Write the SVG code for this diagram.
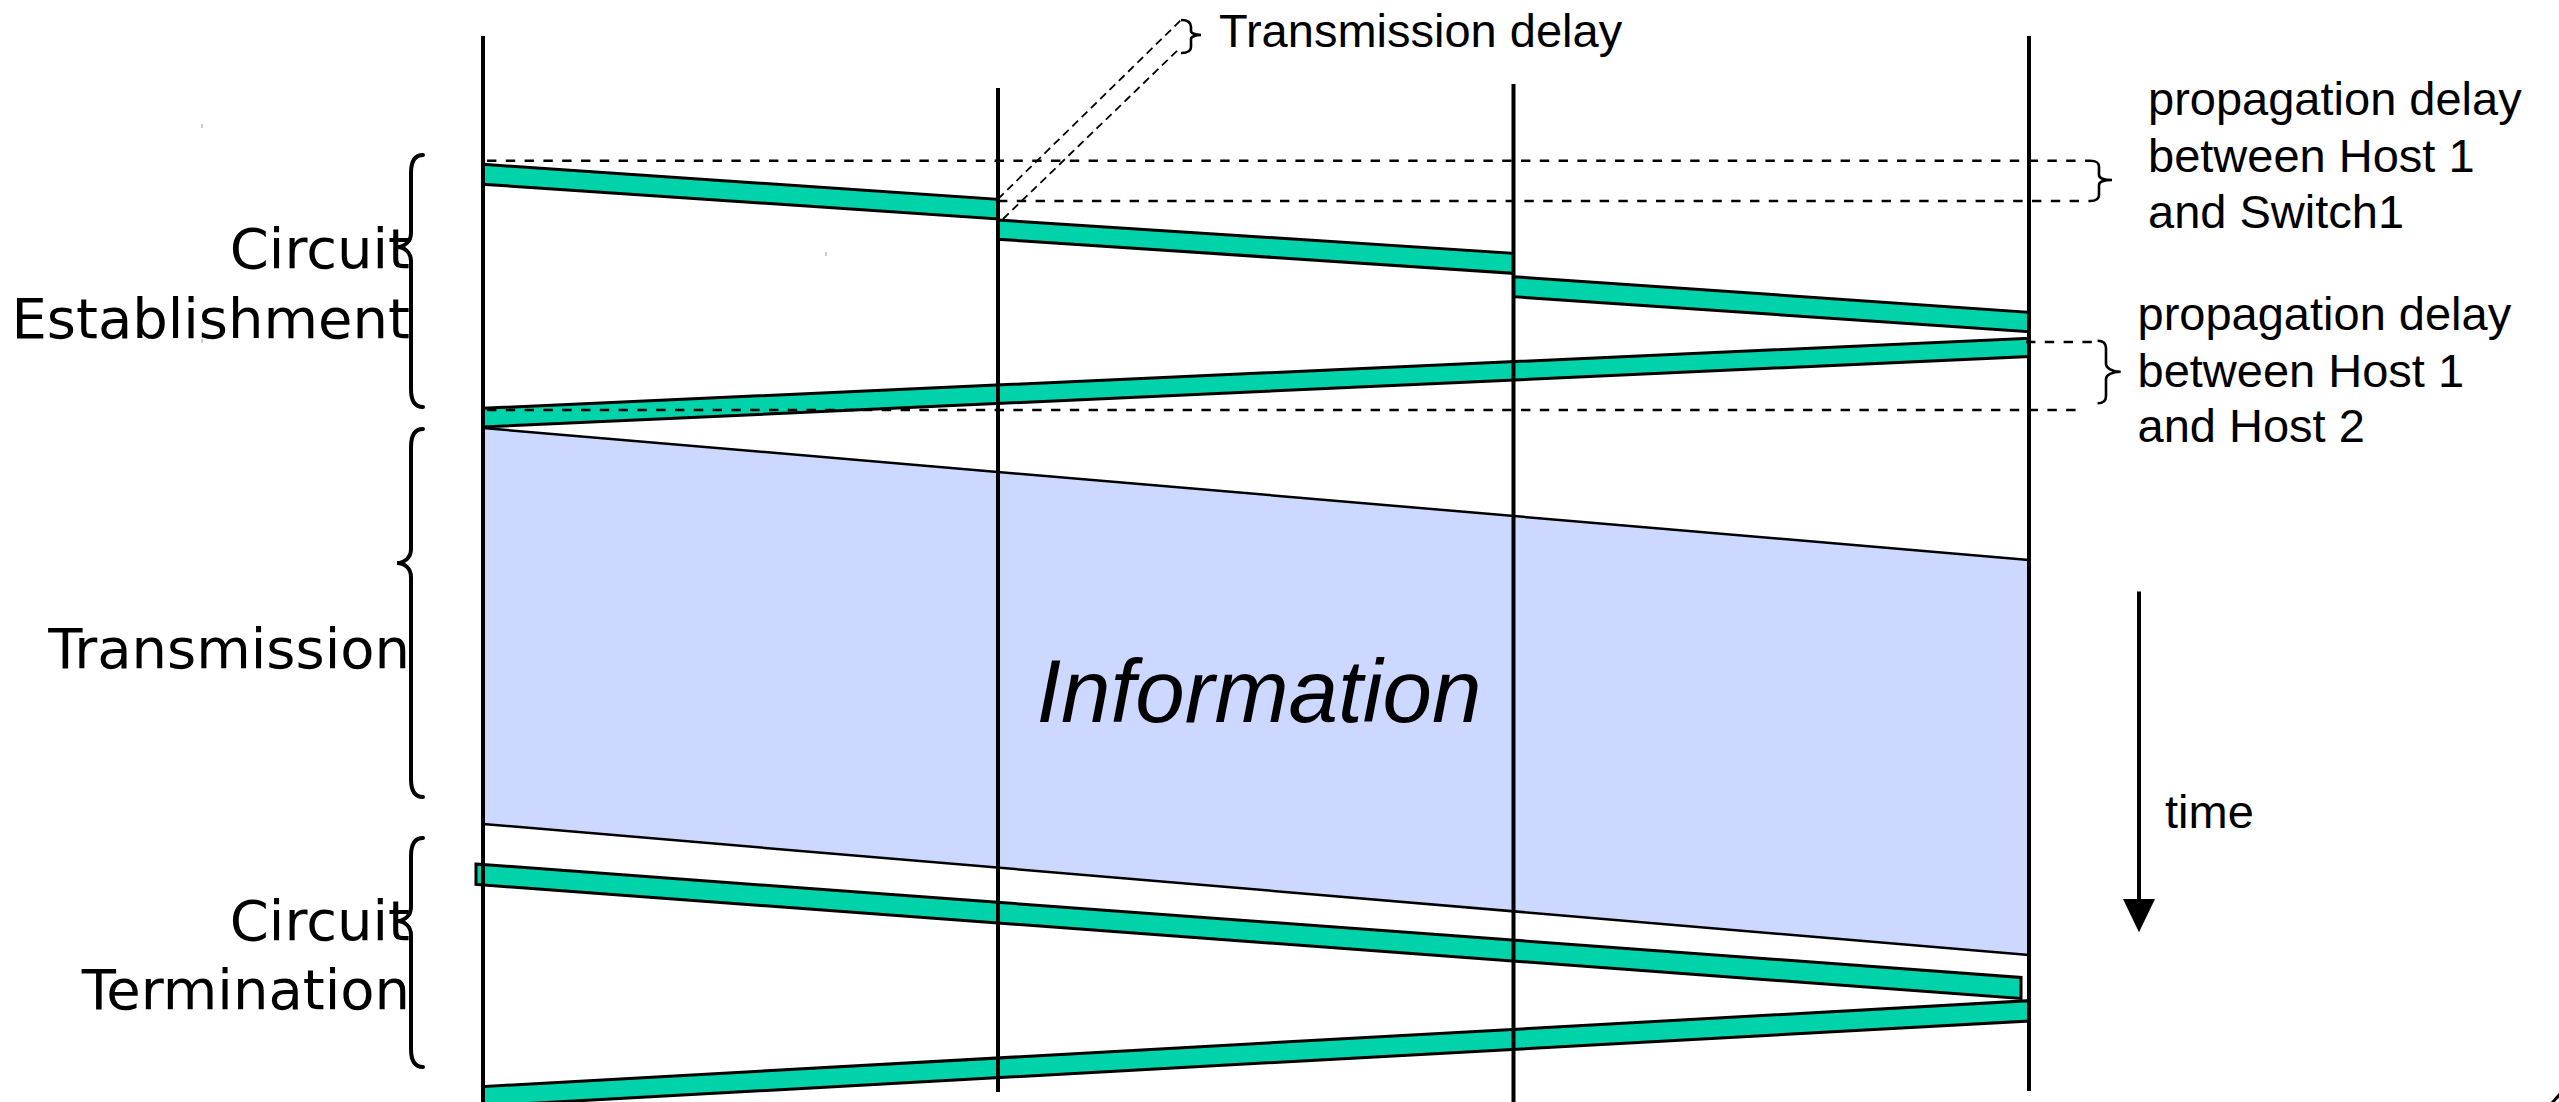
<svg xmlns="http://www.w3.org/2000/svg" width="2559" height="1102" viewBox="0 0 2559 1102">
<defs>
<style>
.band{fill:#00D2AA;stroke:#000;stroke-width:3;stroke-linejoin:miter}
.info{fill:#CCD8FF;stroke:none}
.edge{stroke:#000;stroke-width:2.5;fill:none}
.life{stroke:#000;stroke-width:4;fill:none}
.dash{stroke:#000;stroke-width:2.5;stroke-dasharray:9.4 9.4;fill:none}
.diag{stroke:#000;stroke-width:1.8;stroke-dasharray:8 5;fill:none}
.brace{stroke:#000;stroke-width:4;fill:none;stroke-linecap:round}
.rbrace{stroke:#000;stroke-width:2.6;fill:none}
.lbl{font-family:"DejaVu Sans",sans-serif;font-size:56px;fill:#000;text-anchor:end}
.note{font-family:"Liberation Sans",Arial,sans-serif;font-size:47px;fill:#000}
.tick{stroke:#999;stroke-width:1}
</style>
<marker id="ah" markerWidth="8" markerHeight="8" refX="8" refY="4" orient="auto" markerUnits="userSpaceOnUse"><path d="M0,0 L8,4 L0,8 z" fill="#000"/></marker>
</defs>
<rect width="2559" height="1102" fill="#fff"/>

<g id="information">
<polygon class="info" points="483,428 2029,560 2029,955 483,824"/>
<line class="edge" x1="483" y1="428" x2="2029" y2="560"/>
<line class="edge" x1="483" y1="824" x2="2029" y2="955"/>
<text x="1259" y="722" font-family="'Liberation Sans',Arial,sans-serif" font-style="italic" font-size="89" text-anchor="middle">Information</text>
</g>

<g id="connectors">
<polygon class="band" points="483,164.3 998,199.3 998,219 483,184.3"/>
<polygon class="band" points="998,220 1513.5,253.3 1513.5,273.3 998,239.3"/>
<polygon class="band" points="1513.5,276.7 2029,312.3 2029,331.7 1513.5,296.7"/>
<polygon class="band" points="2029,338.3 2029,356.5 483,427 483,408.3"/>
<polygon class="band" points="476,864 2021,977.4 2021,998.5 476,884.4"/>
<polygon class="band" points="2029,1000.7 2029,1021 483,1106 483,1086.6"/>
</g>

<g id="delay-guides">
<line class="dash" x1="487" y1="160.7" x2="2090" y2="160.7"/>
<line class="dash" x1="998" y1="201" x2="2090" y2="201"/>
<line class="dash" x1="2026" y1="342" x2="2097" y2="342"/>
<line class="dash" x1="487" y1="410" x2="2081" y2="410"/>
<line class="diag" x1="998" y1="199" x2="1181" y2="20"/>
<line class="diag" x1="1003" y1="219" x2="1180" y2="48"/>
<path class="rbrace" d="M1181,20 C1188,20 1191,22 1191,27 L1191,31 C1191,33 1195,35 1201,35 C1195,35 1191,37 1191,39 L1191,47 C1191,51 1188,53 1181,53"/>
<path class="rbrace" d="M2090,160.7 C2096,160.7 2099,162 2099,167 L2099,175 C2099,178 2104,180 2112,180 C2104,180 2099,182 2099,185 L2099,195 C2099,199 2096,201 2090,201"/>
<path class="rbrace" d="M2097.6,340.7 C2103,340.7 2106,343 2106,348 L2106,364 C2106,368 2112,371.7 2120.7,371.7 C2112,371.7 2106,375 2106,379 L2106,396 C2106,401 2103,403.3 2097.6,403.3"/>
</g>

<g id="host1"><line class="life" x1="483" y1="36" x2="483" y2="1102"/></g>
<g id="switch1"><line class="life" x1="998" y1="88" x2="998" y2="1092"/></g>
<g id="switch2"><line class="life" x1="1513.5" y1="84" x2="1513.5" y2="1102"/></g>
<g id="host2"><line class="life" x1="2029" y1="36" x2="2029" y2="1091"/></g>

<g id="phase-establishment">
<text class="lbl" x="410" y="268">Circuit</text>
<text class="lbl" x="410" y="338">Establishment</text>
<path class="brace" d="M423,155 C415,155 411,161 411,173 L411,233 C411,242 404,247 397,247 C404,247 411,252 411,261 L411,389 C411,401 415,407 423,407"/>
</g>
<g id="phase-transmission">
<text class="lbl" x="410" y="668">Transmission</text>
<path class="brace" d="M423,429 C415,429 411,435 411,447 L411,549 C411,558 404,563 397,563 C404,563 411,568 411,577 L411,779 C411,791 415,797 423,797"/>
</g>
<g id="phase-termination">
<text class="lbl" x="410" y="940">Circuit</text>
<text class="lbl" x="410" y="1009">Termination</text>
<path class="brace" d="M423,838 C415,838 411,844 411,856 L411,907 C411,916 404,921 397,921 C404,921 411,926 411,935 L411,1049 C411,1061 415,1067 423,1067"/>
</g>

<g id="notes">
<text class="note" x="1219" y="46.7">Transmission delay</text>
<text class="note" x="2148" y="115">propagation delay</text>
<text class="note" x="2148" y="171.7">between Host 1</text>
<text class="note" x="2148" y="227.7">and Switch1</text>
<text class="note" x="2137.5" y="330">propagation delay</text>
<text class="note" x="2137.5" y="386.7">between Host 1</text>
<text class="note" x="2137.5" y="441.7">and Host 2</text>
</g>

<g id="time-axis">
<line x1="2139" y1="591.6" x2="2139" y2="902" stroke="#000" stroke-width="4"/>
<polygon points="2123,899 2155,899 2139,932.3" fill="#000"/>
<text class="note" x="2165" y="827.5">time</text>
</g>

<g id="marks">
<line class="tick" x1="202" y1="124" x2="202" y2="128"/>
<line class="tick" x1="202" y1="339" x2="202" y2="343"/>
<line class="tick" x1="826" y1="252" x2="826" y2="256"/>
<line x1="2552" y1="1103" x2="2560" y2="1094" stroke="#000" stroke-width="3"/>
</g>
</svg>
